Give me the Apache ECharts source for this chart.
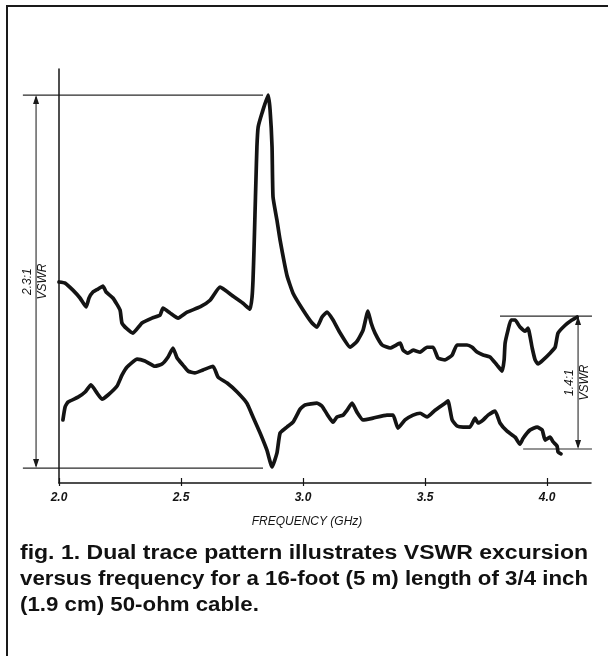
<!DOCTYPE html>
<html>
<head>
<meta charset="utf-8">
<script src="https://cdn.jsdelivr.net/npm/echarts@6/dist/echarts.min.js"></script>
<style>
  html, body { margin: 0; padding: 0; background: #ffffff; }
  #chart { width: 608px; height: 656px; }
</style>
</head>
<body>
<div id="chart"></div>
<script>
// Swept-frequency VSWR pattern, two detector traces.
// Frequency in GHz; level is trace deflection on a 0..100 scale,
// where 0 is the lower reference line and 100 the upper one (the 2.3:1 span).
const upperFreq = [2.000, 2.025, 2.057, 2.086, 2.111, 2.123, 2.139, 2.160, 2.180, 2.193,
  2.221, 2.250, 2.258, 2.279, 2.303, 2.340, 2.381, 2.414, 2.426, 2.455,
  2.488, 2.525, 2.578, 2.619, 2.660, 2.713, 2.754, 2.783, 2.791, 2.795,
  2.799, 2.803, 2.807, 2.811, 2.816, 2.832, 2.857, 2.865, 2.873, 2.877,
  2.893, 2.906, 2.934, 2.959, 3.000, 3.037, 3.057, 3.078, 3.098, 3.123,
  3.152, 3.193, 3.221, 3.246, 3.266, 3.279, 3.295, 3.324, 3.357, 3.398,
  3.410, 3.430, 3.451, 3.480, 3.508, 3.533, 3.553, 3.582, 3.611, 3.631,
  3.672, 3.693, 3.713, 3.738, 3.766, 3.795, 3.816, 3.824, 3.828, 3.840,
  3.852, 3.869, 3.889, 3.910, 3.922, 3.939, 3.951, 3.963, 3.984, 4.012,
  4.033, 4.045, 4.074, 4.102, 4.123];
const upperLevel = [49.9, 49.6, 47.7, 45.6, 43.2, 45.6, 47.2, 48.0, 48.8, 47.2,
  45.6, 42.4, 38.9, 37.3, 36.2, 38.9, 40.2, 41.0, 42.9, 41.6,
  40.2, 41.8, 43.2, 45.0, 48.5, 46.1, 44.2, 42.6, 45.8, 50.4,
  58.4, 67.8, 77.2, 86.1, 91.4, 95.2, 100.0, 96.0, 86.1, 72.7,
  66.5, 61.1, 51.7, 46.9, 42.4, 38.9, 37.8, 40.5, 41.8, 39.7,
  36.2, 32.4, 34.0, 37.0, 42.1, 38.9, 36.2, 33.0, 32.2, 33.5,
  31.6, 30.8, 31.6, 31.1, 32.4, 32.4, 29.5, 29.0, 30.3, 33.0,
  33.0, 32.4, 31.1, 30.3, 29.8, 27.6, 26.0, 29.0, 33.5, 37.0,
  39.7, 39.7, 37.8, 36.7, 37.5, 32.2, 29.0, 27.9, 29.0, 30.8,
  32.4, 36.2, 38.3, 39.7, 40.5];

const lowerFreq = [2.016, 2.025, 2.037, 2.078, 2.107, 2.131, 2.156, 2.176, 2.201, 2.238,
  2.258, 2.279, 2.320, 2.352, 2.393, 2.422, 2.447, 2.467, 2.484, 2.508,
  2.529, 2.557, 2.590, 2.631, 2.652, 2.689, 2.730, 2.770, 2.795, 2.824,
  2.852, 2.873, 2.893, 2.906, 2.934, 2.959, 2.988, 3.008, 3.057, 3.078,
  3.098, 3.123, 3.139, 3.164, 3.180, 3.201, 3.221, 3.246, 3.287, 3.344,
  3.369, 3.389, 3.418, 3.451, 3.480, 3.508, 3.541, 3.582, 3.594, 3.611,
  3.631, 3.656, 3.684, 3.705, 3.717, 3.738, 3.758, 3.787, 3.807, 3.836,
  3.869, 3.889, 3.902, 3.930, 3.959, 3.980, 3.992, 4.012, 4.025, 4.041,
  4.045, 4.057];
const lowerLevel = [12.9, 16.4, 17.7, 19.0, 20.4, 22.3, 20.1, 18.5, 19.6, 22.0,
  24.9, 27.1, 29.2, 28.7, 27.3, 27.9, 29.8, 32.2, 29.5, 27.6,
  26.0, 25.5, 26.3, 27.3, 24.4, 22.8, 20.4, 17.4, 13.7, 9.4,
  4.8, 0.3, 4.0, 9.4, 11.0, 12.3, 15.8, 16.9, 17.4, 16.6,
  14.5, 12.3, 13.7, 14.2, 15.5, 17.4, 15.0, 12.9, 13.4, 14.2,
  14.2, 10.7, 12.9, 14.2, 14.7, 13.7, 15.5, 17.4, 18.0, 12.9,
  11.3, 11.0, 11.0, 13.4, 12.1, 12.9, 14.2, 15.3, 12.1, 9.9,
  8.3, 6.4, 8.0, 10.2, 11.0, 10.2, 7.5, 8.3, 7.0, 5.9,
  4.3, 3.8];

// Frequency axis ticks
const tickValues = [2.0, 2.5, 3.0, 3.5, 4.0];
const tickLabels = ['2.0', '2.5', '3.0', '3.5', '4.0'];

// Left span: whole excursion between the two reference levels
const leftSpanLevels = [0, 100];
const leftSpanFrom = [1.852, 1.852];   // where each reference line starts (GHz)
const leftSpanTo = 2.836;              // where the reference lines end (GHz)
const leftArrowFreq = 1.906;
const leftSpanText = ['2.3:1', 'VSWR'];

// Right span: excursion at the top of the band
const rightSpanLevels = [5.1, 40.75];
const rightSpanFrom = [3.902, 3.807];
const rightSpanTo = 4.184;
const rightArrowFreq = 4.127;
const rightSpanText = ['1.4:1', 'VSWR'];

const captionLines = [
  'fig. 1. Dual trace pattern illustrates VSWR excursion',
  'versus frequency for a 16-foot (5 m) length of 3/4 inch',
  '(1.9 cm) 50-ohm cable.'
];

const FONT = '"Liberation Sans", Arial, Helvetica, sans-serif';
const INK = '#141414';

function pairs(xs, ys) { return xs.map((x, i) => [x, ys[i]]); }

const chart = echarts.init(document.getElementById('chart'), null, { renderer: 'canvas' });

const option = {
  animation: false,
  backgroundColor: '#ffffff',
  grid: { left: 59, right: 17, top: 69, bottom: 173, containLabel: false, outerBoundsMode: 'none' },
  xAxis: [{
    type: 'value', min: 2.0, max: 4.18,
    axisLine: { show: true, onZero: false, lineStyle: { color: INK, width: 1.5 } },
    axisTick: { show: true, inside: true, length: 5, customValues: tickValues,
      lineStyle: { color: INK, width: 1.2 } },
    axisLabel: {
      customValues: tickValues,
      formatter: v => tickLabels[tickValues.findIndex(t => Math.abs(t - v) < 1e-6)] || '',
      fontFamily: FONT, fontStyle: 'italic', fontWeight: 'bold', fontSize: 12, color: INK, margin: 9
    },
    splitLine: { show: false },
    name: 'FREQUENCY (GHz)', nameLocation: 'middle', nameGap: 33,
    nameTextStyle: { fontFamily: FONT, fontStyle: 'italic', fontSize: 12, color: INK,
      padding: [0, 36, 0, 0] }
  }, {
    type: 'value', min: 2.0, max: 4.18, position: 'bottom',
    axisLine: { show: false, onZero: false },
    axisTick: { show: true, inside: false, length: 3, customValues: tickValues,
      lineStyle: { color: INK, width: 1.2 } },
    axisLabel: { show: false },
    splitLine: { show: false }
  }],
  yAxis: {
    type: 'value', min: -4, max: 107,
    axisLine: { show: true, onZero: false, lineStyle: { color: INK, width: 1.5 } },
    axisTick: { show: false },
    axisLabel: { show: false },
    splitLine: { show: false }
  },
  series: [{
    name: 'upper trace', type: 'line', data: pairs(upperFreq, upperLevel),
    symbol: 'none', smooth: 0.15, clip: false,
    lineStyle: { color: INK, width: 3.7, cap: 'round', join: 'round' }
  }, {
    name: 'lower trace', type: 'line', data: pairs(lowerFreq, lowerLevel),
    symbol: 'none', smooth: 0.15, clip: false,
    lineStyle: { color: INK, width: 3.7, cap: 'round', join: 'round' }
  }]
};

chart.setOption(option);

const toPx = (f, v) => chart.convertToPixel({ gridIndex: 0 }, [f, v]);

function spanGraphics(levels, froms, to, arrowFreq, texts) {
  const out = [];
  levels.forEach((lvl, i) => {
    const a = toPx(froms[i], lvl), b = toPx(to, lvl);
    out.push({ type: 'line', shape: { x1: a[0], y1: a[1], x2: b[0], y2: b[1] },
      style: { stroke: '#2a2a2a', lineWidth: 1.1 }, silent: true });
  });
  const lo = toPx(arrowFreq, Math.min(levels[0], levels[1]));
  const hi = toPx(arrowFreq, Math.max(levels[0], levels[1]));
  const ax = lo[0];
  out.push({ type: 'line', shape: { x1: ax, y1: hi[1] + 2, x2: ax, y2: lo[1] - 2 },
    style: { stroke: '#2a2a2a', lineWidth: 1.1 }, silent: true });
  // arrowheads touching the reference lines
  out.push({ type: 'polygon', shape: { points: [[ax, hi[1]], [ax - 3, hi[1] + 9], [ax + 3, hi[1] + 9]] },
    style: { fill: '#1a1a1a' }, silent: true });
  out.push({ type: 'polygon', shape: { points: [[ax, lo[1]], [ax - 3, lo[1] - 9], [ax + 3, lo[1] - 9]] },
    style: { fill: '#1a1a1a' }, silent: true });
  const cy = (lo[1] + hi[1]) / 2;
  out.push({ type: 'text', x: ax - 8, y: cy, rotation: Math.PI / 2,
    style: { text: texts[0], font: 'italic 12px ' + FONT, fill: INK, align: 'center', verticalAlign: 'middle' }, silent: true });
  out.push({ type: 'text', x: ax + 7, y: cy, rotation: Math.PI / 2,
    style: { text: texts[1], font: 'italic 12px ' + FONT, fill: INK, align: 'center', verticalAlign: 'middle' }, silent: true });
  return out;
}

// caption set in bold, the two full lines stretched to the column width
const capFont = 'bold 20px ' + FONT;
const ctx = document.createElement('canvas').getContext('2d');
ctx.font = capFont;
const colLeft = 20, colWidth = 568;
const lineScale = captionLines.map(t => colWidth / ctx.measureText(t).width);
const captionGraphics = captionLines.map((t, i) => ({
  type: 'text', x: colLeft, y: 553 + i * 26,
  scaleX: i < 2 ? lineScale[i] : lineScale[1],
  style: { text: t, font: capFont, fill: '#111111', align: 'left', verticalAlign: 'middle' },
  silent: true
}));

chart.setOption({
  graphic: [
    { type: 'polyline', shape: { points: [[7, 656], [7, 6], [608, 6]] },
      style: { stroke: '#1a1a1a', lineWidth: 2, fill: null }, silent: true },
    ...spanGraphics(leftSpanLevels, leftSpanFrom, leftSpanTo, leftArrowFreq, leftSpanText),
    ...spanGraphics(rightSpanLevels, rightSpanFrom, rightSpanTo, rightArrowFreq, rightSpanText),
    ...captionGraphics
  ]
});
</script>
</body>
</html>
